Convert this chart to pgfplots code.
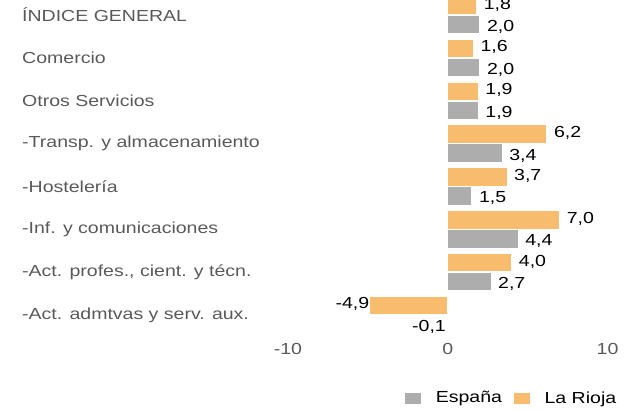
\documentclass[border=0pt]{standalone}
\usepackage{fontspec}
\setmainfont{Liberation Sans}[FakeStretch=1.22]
\usepackage{pgfplots}
\pgfplotsset{compat=1.18}
\definecolor{rioja}{HTML}{F8BC6E}
\definecolor{espana}{HTML}{ADADAD}
\definecolor{lbl}{HTML}{595959}
\begin{document}
\begin{tikzpicture}[x=1pt,y=1pt]
\useasboundingbox (0,0) rectangle (628,409);
\begin{axis}[
  at={(288pt,69pt)}, anchor=south west,
  scale only axis, width=319.5pt, height=340pt,
  xmin=-10, xmax=10, ymin=-0.586, ymax=7.349,
  axis line style={draw=none}, major tick length=0pt,
  font=\fontsize{16pt}{19pt}\selectfont,
  /pgf/number format/assume math mode=true,
  xtick={-10,0,10},
  xticklabel style={text=lbl, inner sep=0pt, yshift=-3pt},
  ytick={0,1,2,3,4,5,6,7},
  yticklabels={{-Act. admtvas y serv. aux.},{-Act. profes., cient. y técn.},{-Inf. y comunicaciones},{-Hostelería},{-Transp. y almacenamiento},{Otros Servicios},{Comercio},{ÍNDICE GENERAL}},
  yticklabel style={anchor=west, inner sep=0pt, xshift=-266pt, text=lbl},
  xbar, bar width=18.4pt,
  point meta=x,
  nodes near coords,
  nodes near coords align=horizontal,
  visualization depends on={x \as \xv},
  every node near coord/.append style={text=black, inner xsep=0pt,
    xshift={ifthenelse(\xv<0,0,7)},
    /pgf/number format/fixed, /pgf/number format/fixed zerofill,
    /pgf/number format/precision=1, /pgf/number format/use comma},
  legend columns=2,
  legend style={at={(axis description cs:0.3631,-0.1706)}, anchor=west,
    draw=none, fill=none, inner sep=0pt,
    nodes={inner sep=0pt, text=black},
    /tikz/every odd column/.append style={column sep=14pt},
    /tikz/every even column/.append style={column sep=11pt}},
  legend image code/.code={\fill[#1] (0pt,-6pt) rectangle (17pt,6pt);},
]
\addplot[fill=espana, draw=white, line width=0.6pt, bar shift=-9.5pt,
  every node near coord/.append style={yshift=-2.5pt}] coordinates {
  (-0.1,0) (2.7,1) (4.4,2) (1.5,3) (3.4,4) (1.9,5) (2.0,6) (2.0,7)};
\addlegendentry{España}
\addplot[fill=rioja, draw=white, line width=0.6pt, bar shift=9.5pt,
  every node near coord/.append style={yshift=1pt}] coordinates {
  (-4.9,0) (4.0,1) (7.0,2) (3.7,3) (6.2,4) (1.9,5) (1.6,6) (1.8,7)};
\addlegendentry{La Rioja}
\end{axis}
\end{tikzpicture}
\end{document}
